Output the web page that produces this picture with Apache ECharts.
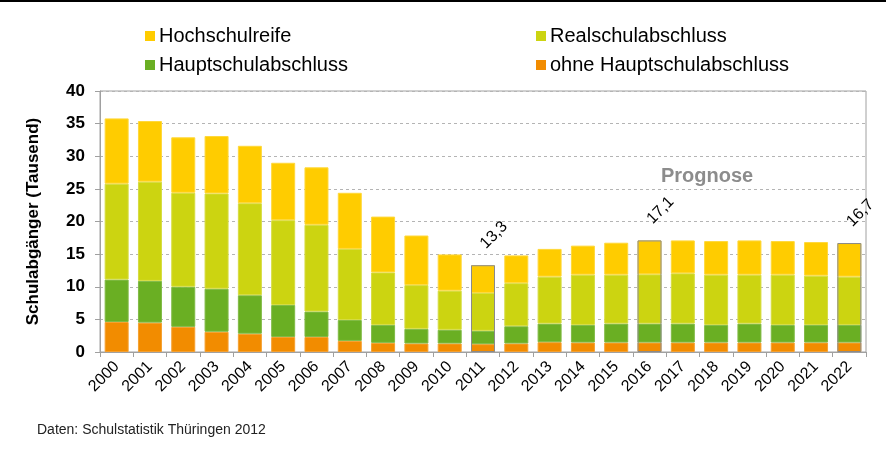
<!DOCTYPE html>
<html>
<head>
<meta charset="utf-8">
<script src="https://cdn.jsdelivr.net/npm/echarts@6/dist/echarts.min.js"></script>
<style>
html,body{margin:0;padding:0;background:#fff;}
#chart{width:886px;height:449px;}
</style>
</head>
<body>
<div id="chart"></div>
<script>
var years = ['2000','2001','2002','2003','2004','2005','2006','2007','2008','2009','2010','2011','2012','2013','2014','2015','2016','2017','2018','2019','2020','2021','2022'];
var ohneHaupt = [4.6,4.5,3.85,3.1,2.8,2.3,2.3,1.7,1.4,1.3,1.3,1.2,1.3,1.5,1.45,1.45,1.45,1.45,1.45,1.45,1.45,1.45,1.45];
var hauptschul = [6.5,6.4,6.15,6.6,5.9,4.9,3.9,3.2,2.75,2.25,2.1,2.05,2.65,2.85,2.7,2.9,2.9,2.9,2.7,2.9,2.7,2.7,2.7];
var realschul = [14.7,15.2,14.4,14.6,14.1,13.0,13.3,10.9,8.05,6.7,6.0,5.8,6.6,7.2,7.7,7.5,7.55,7.7,7.7,7.5,7.7,7.55,7.4];
var hochschul = [10.0,9.3,8.5,8.8,8.8,8.8,8.8,8.6,8.55,7.6,5.55,4.25,4.25,4.25,4.45,4.9,5.2,5.05,5.15,5.25,5.15,5.15,5.15];
var highlightYears = ['2011','2016','2022'];
var yTicks = [0,5,10,15,20,25,30,35,40];

var totals = years.map(function(y, i){
  var t = ohneHaupt[i] + hauptschul[i] + realschul[i] + hochschul[i];
  return highlightYears.indexOf(y) >= 0 ? Math.round(t * 10) / 10 : null;
});

var FONT = 'Liberation Sans, Arial, sans-serif';
var BW = 24;

function barSeries(name, data, color, border) {
  return {
    name: name, type: 'bar', stack: 'total', data: data,
    barWidth: BW, barGap: '-100%',
    itemStyle: { color: color, borderColor: border, borderWidth: 1 },
    emphasis: { disabled: true }
  };
}

var legendCommon = {
  orient: 'vertical', top: 21, itemWidth: 10, itemHeight: 10, itemGap: 9, icon: 'rect',
  itemStyle: { borderWidth: 0 },
  textStyle: { fontFamily: FONT, fontSize: 20, color: '#000', padding: [0, 0, 0, -1] }, selectedMode: false
};

var chart = echarts.init(document.getElementById('chart'), null, { renderer: 'canvas' });
chart.setOption({
  animation: false,
  backgroundColor: '#ffffff',
  grid: { left: 100, right: 20, top: 91, bottom: 97, show: true, borderColor: '#a0a0a0', borderWidth: 1, backgroundColor: 'transparent' },
  legend: [
    Object.assign({}, legendCommon, { data: ['Hochschulreife', 'Hauptschulabschluss'], left: 140 }),
    Object.assign({}, legendCommon, { data: ['Realschulabschluss', 'ohne Hauptschulabschluss'], left: 531 })
  ],
  xAxis: {
    type: 'category', data: years,
    axisLine: { lineStyle: { color: '#a0a0a0', width: 1 } },
    axisTick: { show: true, length: 5, lineStyle: { color: '#a0a0a0' } },
    axisLabel: { rotate: 45, fontFamily: FONT, fontSize: 16, color: '#000', margin: 12, interval: 0 }
  },
  yAxis: {
    type: 'value', min: yTicks[0], max: yTicks[yTicks.length - 1], interval: 5,
    name: 'Schulabgänger (Tausend)', nameLocation: 'middle', nameGap: 58,
    nameTextStyle: { fontFamily: FONT, fontSize: 17, fontWeight: 'bold', color: '#000' },
    axisLine: { show: true, lineStyle: { color: '#a0a0a0', width: 1 } },
    axisTick: { show: true, length: 5, lineStyle: { color: '#a0a0a0' } },
    axisLabel: { fontFamily: FONT, fontSize: 17, fontWeight: 'bold', color: '#000', margin: 15 },
    splitLine: { show: true, lineStyle: { color: '#b4b4b4', type: [3, 3], width: 1 } }
  },
  series: [
    barSeries('ohne Hauptschulabschluss', ohneHaupt, '#F28C00', '#F5A030'),
    barSeries('Hauptschulabschluss', hauptschul, '#6AAF23', '#80BA45'),
    barSeries('Realschulabschluss', realschul, '#CCD411', '#D6DC40'),
    barSeries('Hochschulreife', hochschul, '#FFCC00', '#FFD83A'),
    {
      name: 'Summe', type: 'bar', data: totals, barWidth: BW, barGap: '-100%', z: 5,
      itemStyle: { color: 'rgba(0,0,0,0)', borderColor: '#8a8a8a', borderWidth: 1 },
      emphasis: { disabled: true }, silent: true,
      label: {
        show: true, position: 'top', distance: 19, rotate: 45, align: 'left', verticalAlign: 'middle',
        fontFamily: FONT, fontSize: 16, color: '#000',
        formatter: function(p){ return p.value == null ? '' : p.value.toFixed(1).replace('.', ','); }
      }
    }
  ],
  graphic: [
    { type: 'rect', left: 0, top: 0, shape: { width: 886, height: 2 }, style: { fill: '#000' }, silent: true },
    { type: 'text', left: 661, top: 166, style: { text: 'Prognose', fontFamily: FONT, fontSize: 20, fontWeight: 'bold', fill: '#8c8c8c' }, silent: true },
    { type: 'text', left: 37, top: 423, style: { text: 'Daten: Schulstatistik Thüringen 2012', fontFamily: FONT, fontSize: 14, fill: '#222' }, silent: true }
  ]
});
</script>
</body>
</html>
